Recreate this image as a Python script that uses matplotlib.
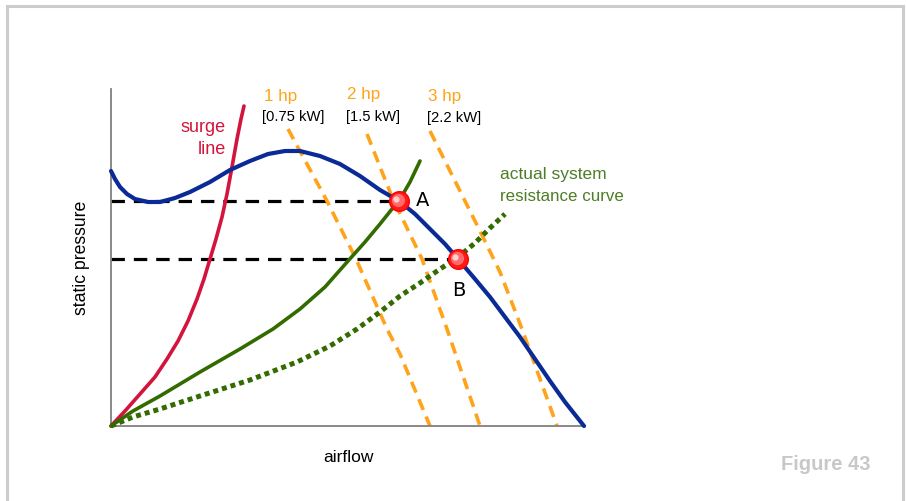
import matplotlib
matplotlib.use('Agg')
import matplotlib.pyplot as plt
from matplotlib.patches import Rectangle

# units: airflow / static pressure, arbitrary scale
fan_airflow = [0, 4, 9, 16, 24, 37, 49, 64, 79, 99, 119, 139, 157, 174, 189, 209, 229, 249, 269, 288,
               304, 319, 334, 347, 364, 379, 394, 409, 424, 439, 454, 473]
fan_pressure = [255, 247, 239, 232, 227, 224, 224, 228, 234, 244, 256, 265, 272, 275, 275, 270, 262, 250, 236, 225,
                212, 197, 182, 167, 147, 129, 109, 89, 67, 45, 24, 0]

surge_airflow = [0, 14, 29, 44, 56, 67, 77, 86, 93, 99, 105, 111, 116, 121, 126, 130, 133]
surge_pressure = [0, 15, 32, 49, 67, 85, 105, 127, 147, 167, 187, 209, 232, 259, 287, 307, 320]

design_airflow = [0, 22, 49, 89, 129, 162, 189, 214, 237, 254, 269, 281, 288, 299, 309]
design_pressure = [0, 15, 30, 54, 77, 97, 117, 139, 165, 184, 202, 217, 225, 244, 265]

actual_airflow = [0, 22, 49, 89, 139, 186, 219, 246, 269, 289, 309, 329, 346, 364, 379, 394]
actual_pressure = [0, 9, 17, 30, 46, 64, 80, 97, 114, 130, 143, 157, 168, 183, 198, 212]

hp_labels = ['1 hp', '2 hp', '3 hp']
kw_labels = ['[0.75 kW]', '[1.5 kW]', '[2.2 kW]']
hp_airflow = [
    [177, 216, 245, 276, 289, 319],
    [256, 281, 311, 336, 369],
    [319, 367, 389, 411, 446],
]
hp_pressure = [
    [297, 225, 167, 97, 72, 0],
    [292, 229, 167, 97, 0],
    [295, 199, 154, 97, 0],
]

point_names = ['A', 'B']
point_airflow = [288, 347]
point_pressure = [225, 167]

BLUE = '#0a2a96'
RED = '#d3143c'
GREEN = '#336b00'
ORANGE = '#ffa31a'
TEXT_GREEN = '#4d7d26'
SANS = 'Liberation Sans'

fig = plt.figure(figsize=(9.06, 5.02), dpi=100)
ax = fig.add_axes([111 / 906, 75 / 502, 474 / 906, 337 / 502])
ax.set_xlim(0, 474)
ax.set_ylim(0, 337)
for side in ['top', 'right']:
    ax.spines[side].set_visible(False)
for side in ['left', 'bottom']:
    ax.spines[side].set_color('#808080')
    ax.spines[side].set_linewidth(1.3)
ax.set_xticks([])
ax.set_yticks([])

# operating point guide lines
for x, y in zip(point_airflow, point_pressure):
    ax.plot([0, x], [y, y], color='black', lw=2.3, dashes=(4.2, 2.8), dash_capstyle='butt', zorder=2)

for xs, ys in zip(hp_airflow, hp_pressure):
    ax.plot(xs, ys, color=ORANGE, lw=2.6, dashes=(3.2, 2.0), dash_capstyle='butt', zorder=2)

ax.plot(surge_airflow, surge_pressure, color=RED, lw=2.6, solid_capstyle='round', solid_joinstyle='round', zorder=3, clip_on=False)
ax.plot(design_airflow, design_pressure, color=GREEN, lw=2.6, solid_capstyle='round', solid_joinstyle='round', zorder=3, clip_on=False)
ax.plot(actual_airflow, actual_pressure, color=GREEN, lw=3.6, dashes=(1.0, 0.8), dash_capstyle='butt', zorder=3, clip_on=False)
ax.plot(fan_airflow, fan_pressure, color=BLUE, lw=3.0, solid_capstyle='round', solid_joinstyle='round', zorder=4, clip_on=False)

# operating points
ax.scatter(point_airflow, point_pressure, s=200, color='#ff1a1a', edgecolor='#ff0000', zorder=5)
ax.scatter([x - 1 for x in point_airflow], [y + 1 for y in point_pressure], s=90, color='#ff6b6b', lw=0, zorder=6)
ax.scatter([x - 2.5 for x in point_airflow], [y + 2.5 for y in point_pressure], s=20, color='#ffd0d0', lw=0, zorder=7)

for name, x, y, dx, dy in zip(point_names, point_airflow, point_pressure, [17, -6], [1, -30]):
    ax.text(x + dx, y + dy, name, fontsize=14, color='black', ha='left', va='center', family='DejaVu Sans')

ax.text(115, 299, 'surge', fontsize=13, color=RED, ha='right', va='center', clip_on=False, family=SANS)
ax.text(115, 277, 'line', fontsize=13, color=RED, ha='right', va='center', clip_on=False, family=SANS)

hp_text_x = [153, 236, 317]
kw_text_x = [151, 235, 316]
hp_text_y = [331, 332, 330]
kw_text_y = [310, 310, 309]
for i in range(3):
    ax.text(hp_text_x[i], hp_text_y[i], hp_labels[i], fontsize=12.3, color=ORANGE, ha='left', va='center', clip_on=False, family=SANS)
    ax.text(kw_text_x[i], kw_text_y[i], kw_labels[i], fontsize=10.6, color='black', ha='left', va='center', clip_on=False, family=SANS)

ax.text(389, 252, 'actual system', fontsize=12.5, color=TEXT_GREEN, ha='left', va='center', clip_on=False, family=SANS)
ax.text(389, 230, 'resistance curve', fontsize=12.2, color=TEXT_GREEN, ha='left', va='center', clip_on=False, family=SANS)

ax.text(-29, 169, 'static pressure', fontsize=12.7, color='black', rotation=90, ha='center', va='center', clip_on=False, family=SANS)
ax.text(237, -31, 'airflow', fontsize=12.5, color='black', ha='center', va='center', clip_on=False, family=SANS)

fig.text(826 / 906, 1 - 465 / 502, 'Figure 43', fontsize=14.5, color='#c8c8c8', fontweight='bold',
         ha='center', va='center', family=SANS)

fig.patches.append(Rectangle((7 / 906, -0.05), 896 / 906, 1.05 - 7 / 502, transform=fig.transFigure,
                             fill=False, edgecolor='#cccccc', lw=2.2, figure=fig))

fig.savefig('out.png', dpi=100)
